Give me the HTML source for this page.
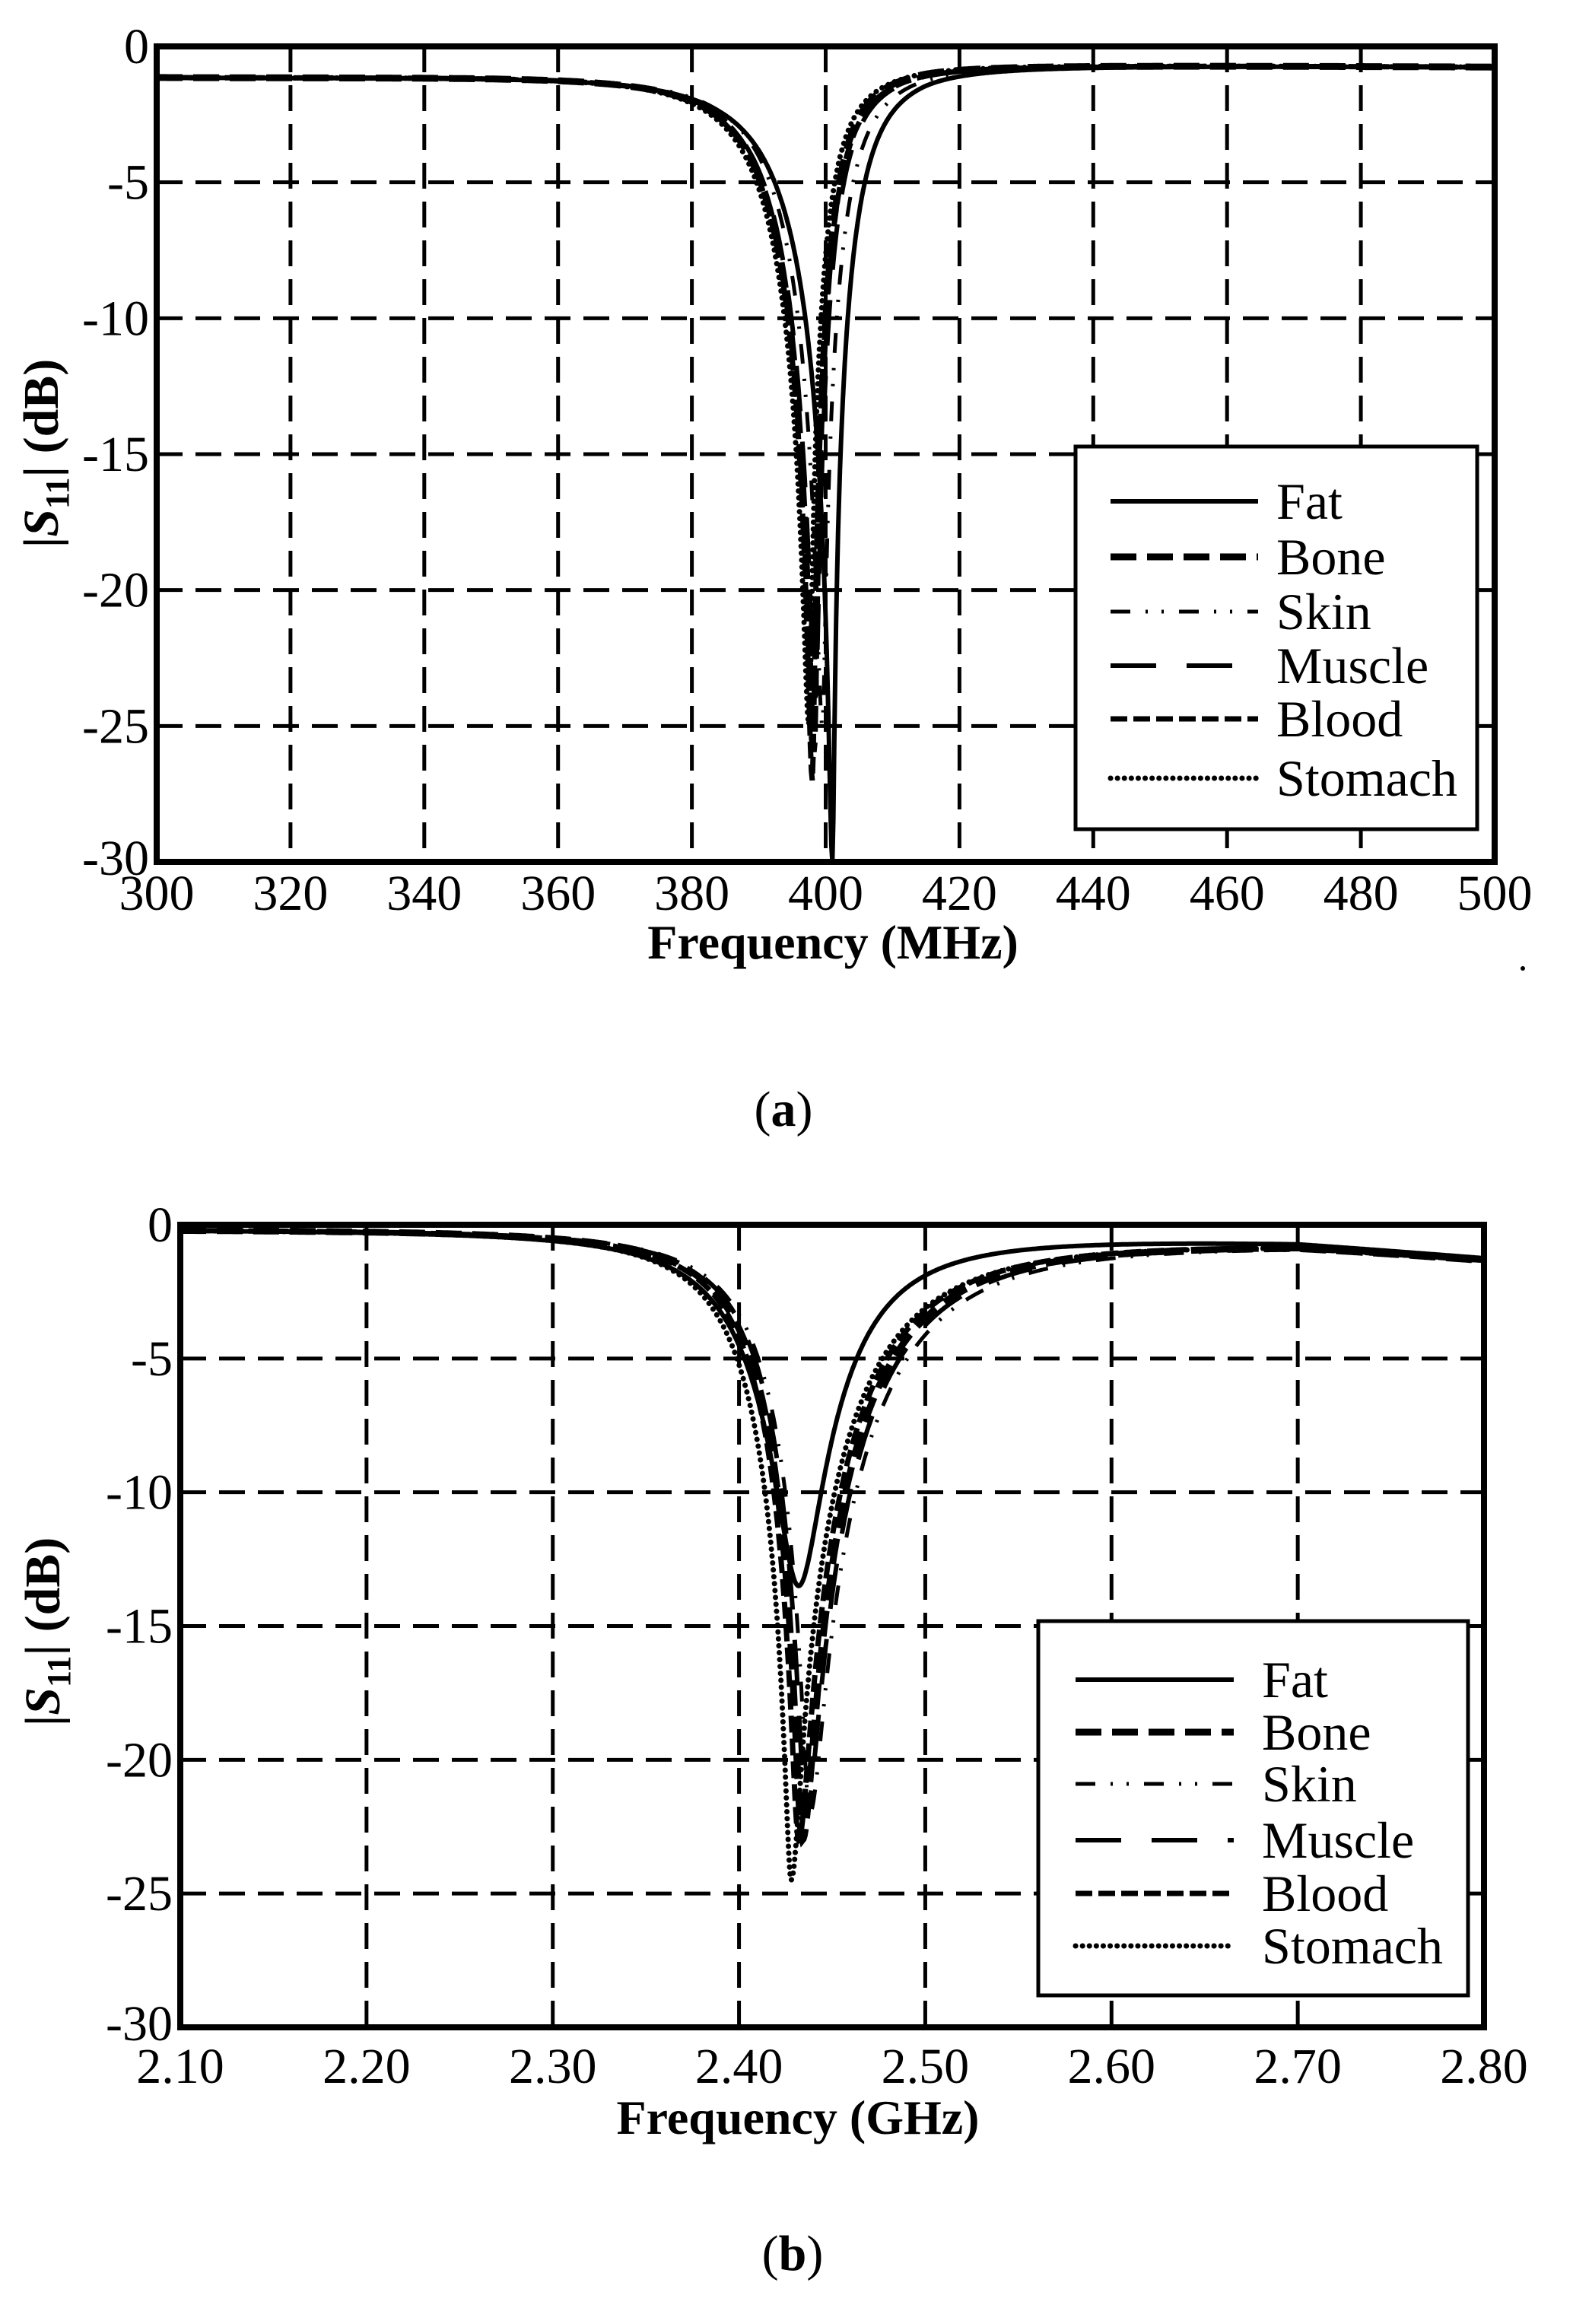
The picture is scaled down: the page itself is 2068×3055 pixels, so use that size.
<!DOCTYPE html>
<html><head><meta charset="utf-8"><style>
html,body{margin:0;padding:0;background:#fff;}
svg{display:block;}
text{font-family:"Liberation Serif",serif;fill:#000;}
</style></head><body>
<svg id="s" width="2068" height="3055" viewBox="0 0 2068 3055" xmlns="http://www.w3.org/2000/svg">
<rect width="2068" height="3055" fill="#fff"/>
<g id="g"></g>
</svg>
<script>
const NS="http://www.w3.org/2000/svg";
const G=document.getElementById('g');
function el(t,a,txt){const e=document.createElementNS(NS,t);for(const k in a)e.setAttribute(k,a[k]);if(txt!==undefined)e.textContent=txt;G.appendChild(e);return e;}
const styles={
 Fat:{w:6,d:""},
 Bone:{w:9,d:"34,14"},
 Skin:{w:5,d:"26,20,3,18,3,20"},
 Muscle:{w:6,d:"60,40"},
 Blood:{w:7,d:"22,8"},
 Stomach:{w:7,d:"0.1,9",cap:"round"}
};
function plot(P){
 const {L,R,T,B,x0,x1,xt,xfmt}=P;
 const sx=f=>L+(f-x0)/(x1-x0)*(R-L), sy=v=>T+(-v)/30*(B-T);
 for(let i=1;i<xt;i++){const x=L+i*(R-L)/xt;el('line',{x1:x,y1:T,x2:x,y2:B,stroke:'#000','stroke-width':5,'stroke-dasharray':'34,17'});}
 for(let v=-5;v>-30;v-=5){el('line',{x1:L,y1:sy(v),x2:R,y2:sy(v),stroke:'#000','stroke-width':5,'stroke-dasharray':'34,17'});}
 for(const c of P.curves){
  let d="";
  for(let i=0;i<=1400;i++){
   const f=x0+(x1-x0)*i/1400;
   const w=f<c.f0?c.wl:c.wr;
   const A=1-Math.pow(10,(c.dep-P.base(c.f0))/10);
   const x=(f-c.f0)/w;
   let r2=1-A/(1+x*x);
   let v=P.base(f)+10*Math.log10(Math.max(r2,1e-6));
   d+=(i?"L":"M")+sx(f).toFixed(1)+","+sy(v).toFixed(1);
  }
  const s=styles[c.n];
  el('path',{d:d,fill:'none',stroke:'#000','stroke-width':s.w,'stroke-dasharray':s.d||'none','stroke-linecap':s.cap||'butt'});
 }
 el('rect',{x:L,y:T,width:R-L,height:B-T,fill:'none',stroke:'#000','stroke-width':8});
 for(let i=0;i<=xt;i++){const x=L+i*(R-L)/xt;el('text',{x:x,y:P.xly,'font-size':66,'text-anchor':'middle'},xfmt(i));}
 for(let v=0;v>=-30;v-=5){el('text',{x:L-10,y:sy(v)+(v==-30?17:22),'font-size':66,'text-anchor':'end'},String(v));}
 el('text',{x:P.xlx,y:P.xlby,'font-size':64,'font-weight':'bold','text-anchor':'middle'},P.xlab);
 const yl=el('text',{transform:`translate(${P.ylx},${P.yly}) rotate(-90)`,'font-size':66,'font-weight':'bold','text-anchor':'middle'});
 yl.innerHTML='|<tspan font-style="italic">S</tspan><tspan font-size="44" dy="14">11</tspan><tspan dy="-14">|  (dB)</tspan>';
 const Lg=P.leg;
 el('rect',{x:Lg.x,y:Lg.y,width:Lg.w,height:Lg.h,fill:'#fff',stroke:'#000','stroke-width':5});
 const names=["Fat","Bone","Skin","Muscle","Blood","Stomach"];
 names.forEach((n,i)=>{const y=Lg.ys[i];const s=styles[n];
  el('line',{x1:Lg.lx0,y1:y,x2:Lg.lx1,y2:y,stroke:'#000','stroke-width':s.w,'stroke-dasharray':s.d||'none','stroke-linecap':s.cap||'butt'});
  el('text',{x:Lg.tx,y:y+23,'font-size':68},n);});
}
plot({L:206,R:1965,T:61,B:1133,x0:300,x1:500,xt:10,xfmt:i=>String(300+20*i),xly:1196,
 xlx:1095,xlby:1260,xlab:"Frequency (MHz)",ylx:76,yly:596,
 base:f=>f<415?-1.1+0.45*(f-300)/115*(f-300)/115:-0.65-0.1*(f-415)/85,
 curves:[
  {n:"Stomach",f0:397.5,dep:-25,wl:10,wr:5},
  {n:"Blood",f0:398,dep:-27,wl:10,wr:5.5},
  {n:"Muscle",f0:398.5,dep:-24,wl:10,wr:5.5},
  {n:"Bone",f0:398.2,dep:-26,wl:10,wr:5},
  {n:"Skin",f0:399.5,dep:-25,wl:10,wr:6},
  {n:"Fat",f0:401,dep:-30,wl:11,wr:6.3}],
 leg:{x:1414,y:587,w:528,h:503,lx0:1460,lx1:1654,tx:1678,ys:[659,732,804,875,945,1023]}});
const ta=el('text',{x:1030,y:1480,'font-size':66,'text-anchor':'middle'});ta.innerHTML='(<tspan font-weight="bold">a</tspan>)';
el('circle',{cx:2002,cy:1273,r:3,fill:'#000'});
plot({L:237,R:1951,T:1610,B:2665,x0:2.1,x1:2.8,xt:7,xfmt:i=>(2.1+0.1*i).toFixed(2),xly:2738,
 xlx:1049,xlby:2805,xlab:"Frequency (GHz)",ylx:78,yly:2145,
 base:f=>-0.15-0.45*Math.max(0,(f-2.45)/0.25)-0.4*Math.max(0,(f-2.7)/0.1),
 curves:[
  {n:"Stomach",f0:2.428,dep:-24.5,wl:0.042,wr:0.07},
  {n:"Blood",f0:2.432,dep:-23,wl:0.04,wr:0.068},
  {n:"Muscle",f0:2.436,dep:-22,wl:0.04,wr:0.072},
  {n:"Bone",f0:2.434,dep:-23,wl:0.04,wr:0.07},
  {n:"Skin",f0:2.438,dep:-22,wl:0.04,wr:0.075},
  {n:"Fat",f0:2.432,dep:-13.5,wl:0.045,wr:0.048}],
 leg:{x:1365,y:2131,w:565,h:492,lx0:1414,lx1:1622,tx:1659,ys:[2208,2277,2345,2419,2489,2558]}});
const tb=el('text',{x:1042,y:2984,'font-size':66,'text-anchor':'middle'});tb.innerHTML='(<tspan font-weight="bold">b</tspan>)';
</script>
</body></html>
